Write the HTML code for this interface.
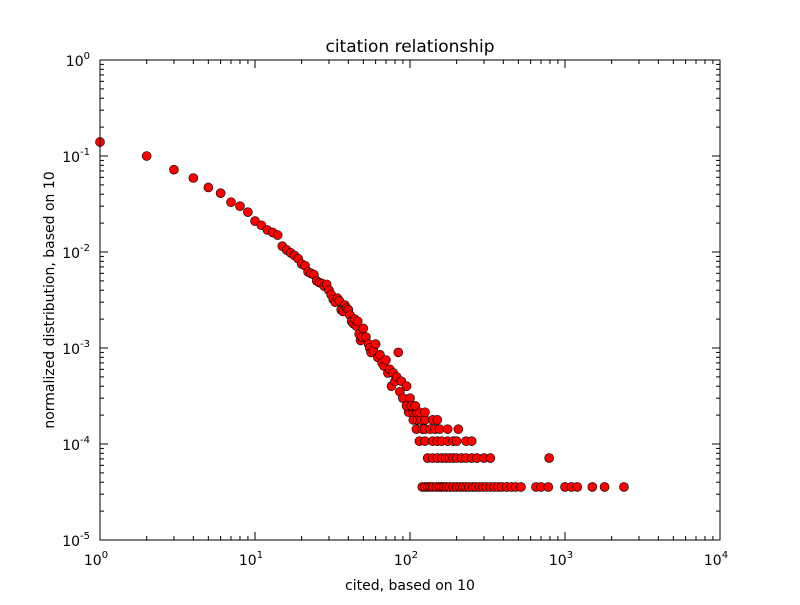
<!DOCTYPE html>
<html><head><meta charset="utf-8"><style>
body{margin:0;background:#fff}
svg text{font-family:"DejaVu Sans","Liberation Sans",sans-serif;fill:#000}
</style></head><body>
<svg id="chart" width="800" height="600">
<rect width="800" height="600" fill="#fff"/>
<text x="410" y="52" font-size="17" text-anchor="middle">citation relationship</text>
<text x="410" y="590" font-size="14" text-anchor="middle">cited, based on 10</text>
<text transform="translate(54,300) rotate(-90)" font-size="14" text-anchor="middle">normalized distribution, based on 10</text>
<g id="ticks"></g>
<g id="pts"></g>
<rect x="100" y="60" width="620" height="480" fill="none" stroke="#000" stroke-width="1"/>
</svg>
<script>
const xTickExps=[0,1,2,3,4];
const yTickExps=[0,-1,-2,-3,-4,-5];
const headX=[1,2,3,4,5,6,7,8,9,10,11,12,13,14,15,16,17,18,19,20,21,22,23,24,25,26,27,28,29,30,31,32,33,34,35,36,37,38,39,40,41,42,43,44,45,46,47,48,49,50,52,54,55,56,58,60,62,64,66,68,70,72,74,76,78,80,82,84,86,88,90,95,100];
const headY=[0.14,0.10,0.072,0.059,0.047,0.041,0.033,0.030,0.026,0.021,0.019,0.017,0.016,0.015,0.0115,0.0105,0.0098,0.0092,0.0085,0.0075,0.0072,0.0062,0.0060,0.0058,0.0050,0.0048,0.0047,0.0044,0.0046,0.0040,0.0036,0.0032,0.0030,0.0033,0.0031,0.0025,0.0024,0.0028,0.0026,0.0025,0.0022,0.0019,0.0018,0.0020,0.0017,0.0019,0.0014,0.0012,0.0013,0.0016,0.0013,0.0011,0.0010,0.0009,0.00095,0.0011,0.0008,0.00085,0.0007,0.00065,0.00075,0.00055,0.0006,0.0004,0.00055,0.00045,0.0005,0.0009,0.00035,0.00045,0.0003,0.0004,0.0003];
const unit=3.57e-5;
const level1X=[120,125,130,135,140,148,155,160,165,172,180,190,200,210,220,230,240,255,265,280,295,310,330,350,370,390,420,450,480,520,650,700,780,1000,1100,1200,1500,1800,2400];
const level2X=[130,140,150,160,170,180,190,200,215,230,250,270,300,330,790];
const level3X=[115,125,140,150,160,175,190,200,230,250];
const level4X=[110,120,125,135,145,155,175,205];
const level5X=[105,112,118,125,140,150];
const level6X=[98,105,110,115,125];
const level7X=[95,102,108];
const levels=[level1X,level2X,level3X,level4X,level5X,level6X,level7X];

const X0=100,X1=720,Y0=540,Y1=60;
const sx=v=>X0+(Math.log10(v)-0)/4*(X1-X0);
const sy=v=>Y0-(Math.log10(v)+5)/5*(Y0-Y1);
const NS="http://www.w3.org/2000/svg";
const tg=document.getElementById('ticks');
function ln(x1,y1,x2,y2){const l=document.createElementNS(NS,'line');l.setAttribute('x1',x1);l.setAttribute('y1',y1);l.setAttribute('x2',x2);l.setAttribute('y2',y2);l.setAttribute('stroke','#000');tg.appendChild(l);return l;}
function lab(x,y,e,anchor){const t=document.createElementNS(NS,'text');t.setAttribute('x',x);t.setAttribute('y',y);t.setAttribute('font-size','14');t.setAttribute('text-anchor',anchor);
const a=document.createElementNS(NS,'tspan');a.textContent='10';t.appendChild(a);
const b=document.createElementNS(NS,'tspan');b.textContent=e;b.setAttribute('font-size','10');b.setAttribute('dy','-7');t.appendChild(b);tg.appendChild(t);return t;}
xTickExps.forEach(e=>{const x=sx(Math.pow(10,e));
ln(x,Y0,x,Y0-8);ln(x,Y1,x,Y1+8);
const t=lab(x-4,Y0+25,String(e),'middle');


if(e<4)for(let m=2;m<10;m++){const xm=sx(m*Math.pow(10,e));ln(xm,Y0,xm,Y0-4);ln(xm,Y1,xm,Y1+4);}});
yTickExps.forEach(e=>{const y=sy(Math.pow(10,e));
ln(X0,y,X0+8,y);ln(X1,y,X1-8,y);
const t=lab(X0-10,y+6,String(e),'end');


if(e>-5)for(let m=2;m<10;m++){const ym=sy(m*Math.pow(10,e-1));ln(X0,ym,X0+4,ym);ln(X1,ym,X1-4,ym);}});
const pg=document.getElementById('pts');
function pt(x,y){const c=document.createElementNS(NS,'circle');c.setAttribute('cx',sx(x));c.setAttribute('cy',sy(y));c.setAttribute('r','4.5');c.setAttribute('fill','#ff0000');c.setAttribute('stroke','#000');c.setAttribute('stroke-width','0.6');


pg.appendChild(c);}
headX.forEach((x,i)=>pt(x,headY[i]));
levels.forEach((arr,k)=>arr.forEach(x=>pt(x,unit*(k+1))));
</script>
</body></html>
